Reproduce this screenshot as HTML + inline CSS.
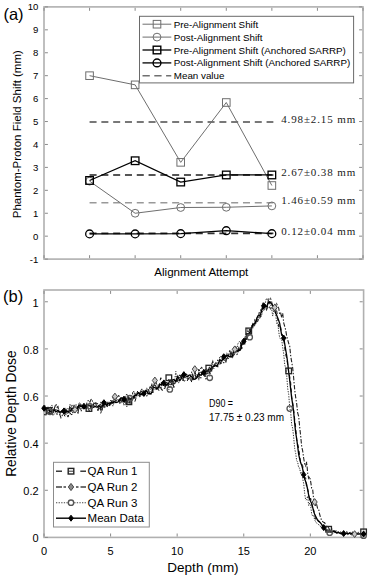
<!DOCTYPE html>
<html><head><meta charset="utf-8"><style>
html,body{margin:0;padding:0;background:#fff;}
svg{display:block;}
text{font-family:'Liberation Sans', sans-serif;fill:#000;}
</style></head><body>
<svg width="368" height="579" viewBox="0 0 368 579">
<rect x="44.0" y="6.9" width="319.0" height="252.20000000000002" fill="none" stroke="#b0b0b0" stroke-width="1.6"/>
<path d="M44.9,259.10h3M362.1,259.10h-3M44.9,236.17h3M362.1,236.17h-3M44.9,213.25h3M362.1,213.25h-3M44.9,190.32h3M362.1,190.32h-3M44.9,167.39h3M362.1,167.39h-3M44.9,144.46h3M362.1,144.46h-3M44.9,121.54h3M362.1,121.54h-3M44.9,98.61h3M362.1,98.61h-3M44.9,75.68h3M362.1,75.68h-3M44.9,52.75h3M362.1,52.75h-3M44.9,29.83h3M362.1,29.83h-3M44.9,6.90h3M362.1,6.90h-3M44.00,258.20000000000005v-3M44.00,7.800000000000001v3M89.57,258.20000000000005v-3M89.57,7.800000000000001v3M135.14,258.20000000000005v-3M135.14,7.800000000000001v3M180.71,258.20000000000005v-3M180.71,7.800000000000001v3M226.29,258.20000000000005v-3M226.29,7.800000000000001v3M271.86,258.20000000000005v-3M271.86,7.800000000000001v3M317.43,258.20000000000005v-3M317.43,7.800000000000001v3M363.00,258.20000000000005v-3M363.00,7.800000000000001v3" stroke="#8a8a8a" stroke-width="1" fill="none"/>
<text x="38.4" y="262.60" font-size="9.6" text-anchor="end">-1</text>
<text x="38.4" y="239.67" font-size="9.6" text-anchor="end">0</text>
<text x="38.4" y="216.75" font-size="9.6" text-anchor="end">1</text>
<text x="38.4" y="193.82" font-size="9.6" text-anchor="end">2</text>
<text x="38.4" y="170.89" font-size="9.6" text-anchor="end">3</text>
<text x="38.4" y="147.96" font-size="9.6" text-anchor="end">4</text>
<text x="38.4" y="125.04" font-size="9.6" text-anchor="end">5</text>
<text x="38.4" y="102.11" font-size="9.6" text-anchor="end">6</text>
<text x="38.4" y="79.18" font-size="9.6" text-anchor="end">7</text>
<text x="38.4" y="56.25" font-size="9.6" text-anchor="end">8</text>
<text x="38.4" y="33.33" font-size="9.6" text-anchor="end">9</text>
<text x="38.4" y="10.40" font-size="9.6" text-anchor="end">10</text>
<text x="201.3" y="275.6" font-size="11.6" text-anchor="middle">Alignment Attempt</text>
<text transform="translate(21.4,134.2) rotate(-90)" font-size="11.5" text-anchor="middle">Phantom-Proton Field Shift (mm)</text>
<text x="3.4" y="19.6" font-size="16.5">(a)</text>
<line x1="89.57" y1="121.99" x2="273.36" y2="121.99" stroke="#787878" stroke-width="1.9" stroke-dasharray="7 4.8"/>
<line x1="89.57" y1="174.96" x2="273.36" y2="174.96" stroke="#555555" stroke-width="1.9" stroke-dasharray="7 4.8"/>
<line x1="89.57" y1="202.70" x2="273.36" y2="202.70" stroke="#999999" stroke-width="1.6" stroke-dasharray="7 4.8"/>
<line x1="89.57" y1="233.42" x2="273.36" y2="233.42" stroke="#303030" stroke-width="1.9" stroke-dasharray="7 4.8"/>
<polyline points="89.57,75.68 135.14,84.85 180.71,162.35 226.29,102.51 271.86,185.50" fill="none" stroke="#6e6e6e" stroke-width="1.0"/>
<rect x="85.77" y="71.88" width="7.6" height="7.6" fill="none" stroke="#6e6e6e" stroke-width="1.0"/>
<rect x="131.34" y="81.05" width="7.6" height="7.6" fill="none" stroke="#6e6e6e" stroke-width="1.0"/>
<rect x="176.91" y="158.55" width="7.6" height="7.6" fill="none" stroke="#6e6e6e" stroke-width="1.0"/>
<rect x="222.49" y="98.71" width="7.6" height="7.6" fill="none" stroke="#6e6e6e" stroke-width="1.0"/>
<rect x="268.06" y="181.70" width="7.6" height="7.6" fill="none" stroke="#6e6e6e" stroke-width="1.0"/>
<polyline points="89.57,181.15 135.14,213.25 180.71,207.51 226.29,207.28 271.86,205.91" fill="none" stroke="#6e6e6e" stroke-width="1.0"/>
<circle cx="89.57" cy="181.15" r="3.9" fill="none" stroke="#6e6e6e" stroke-width="1.0"/>
<circle cx="135.14" cy="213.25" r="3.9" fill="none" stroke="#6e6e6e" stroke-width="1.0"/>
<circle cx="180.71" cy="207.51" r="3.9" fill="none" stroke="#6e6e6e" stroke-width="1.0"/>
<circle cx="226.29" cy="207.28" r="3.9" fill="none" stroke="#6e6e6e" stroke-width="1.0"/>
<circle cx="271.86" cy="205.91" r="3.9" fill="none" stroke="#6e6e6e" stroke-width="1.0"/>
<polyline points="89.57,180.46 135.14,160.74 180.71,182.06 226.29,174.96 271.86,174.96" fill="none" stroke="#000" stroke-width="1.25"/>
<rect x="85.77" y="176.66" width="7.6" height="7.6" fill="none" stroke="#000" stroke-width="1.3"/>
<rect x="131.34" y="156.94" width="7.6" height="7.6" fill="none" stroke="#000" stroke-width="1.3"/>
<rect x="176.91" y="178.26" width="7.6" height="7.6" fill="none" stroke="#000" stroke-width="1.3"/>
<rect x="222.49" y="171.16" width="7.6" height="7.6" fill="none" stroke="#000" stroke-width="1.3"/>
<rect x="268.06" y="171.16" width="7.6" height="7.6" fill="none" stroke="#000" stroke-width="1.3"/>
<polyline points="89.57,233.88 135.14,233.88 180.71,233.65 226.29,230.67 271.86,233.65" fill="none" stroke="#000" stroke-width="1.25"/>
<circle cx="89.57" cy="233.88" r="3.9" fill="none" stroke="#000" stroke-width="1.3"/>
<circle cx="135.14" cy="233.88" r="3.9" fill="none" stroke="#000" stroke-width="1.3"/>
<circle cx="180.71" cy="233.65" r="3.9" fill="none" stroke="#000" stroke-width="1.3"/>
<circle cx="226.29" cy="230.67" r="3.9" fill="none" stroke="#000" stroke-width="1.3"/>
<circle cx="271.86" cy="233.65" r="3.9" fill="none" stroke="#000" stroke-width="1.3"/>
<text x="281.2" y="123.20" style="font-family:'Liberation Serif', serif;fill:#1a1a1a" font-size="11" textLength="74" lengthAdjust="spacing">4.98±2.15 mm</text>
<text x="281.2" y="176.00" style="font-family:'Liberation Serif', serif;fill:#1a1a1a" font-size="11" textLength="74" lengthAdjust="spacing">2.67±0.38 mm</text>
<text x="281.2" y="204.00" style="font-family:'Liberation Serif', serif;fill:#1a1a1a" font-size="11" textLength="74" lengthAdjust="spacing">1.46±0.59 mm</text>
<text x="281.2" y="235.30" style="font-family:'Liberation Serif', serif;fill:#1a1a1a" font-size="11" textLength="74" lengthAdjust="spacing">0.12±0.04 mm</text>
<rect x="139.5" y="16.3" width="214.10000000000002" height="66.60000000000001" fill="#fff" stroke="#6a6a6a" stroke-width="1"/>
<line x1="142.5" y1="24.2" x2="171.3" y2="24.2" stroke="#6e6e6e" stroke-width="1"/>
<rect x="153.2" y="20.4" width="7.6" height="7.6" fill="none" stroke="#6e6e6e" stroke-width="1"/>
<text x="173.8" y="27.70" font-size="9.8">Pre-Alignment Shift</text>
<line x1="142.5" y1="37.1" x2="171.3" y2="37.1" stroke="#6e6e6e" stroke-width="1"/>
<circle cx="157" cy="37.1" r="3.9" fill="none" stroke="#6e6e6e" stroke-width="1"/>
<text x="173.8" y="40.60" font-size="9.8">Post-Alignment Shift</text>
<line x1="142.5" y1="50.0" x2="171.3" y2="50.0" stroke="#000" stroke-width="1.3"/>
<rect x="153.2" y="46.2" width="7.6" height="7.6" fill="none" stroke="#000" stroke-width="1.4"/>
<text x="173.8" y="53.50" font-size="9.8">Pre-Alignment Shift (Anchored SARRP)</text>
<line x1="142.5" y1="62.900000000000006" x2="171.3" y2="62.900000000000006" stroke="#000" stroke-width="1.3"/>
<circle cx="157" cy="62.900000000000006" r="3.9" fill="none" stroke="#000" stroke-width="1.4"/>
<text x="173.8" y="66.40" font-size="9.8">Post-Alignment Shift (Anchored SARRP)</text>
<line x1="142.5" y1="75.8" x2="171.3" y2="75.8" stroke="#707070" stroke-width="1.5" stroke-dasharray="7.3 4.5"/>
<text x="173.8" y="79.30" font-size="9.8">Mean value</text>
<rect x="44.0" y="290.0" width="319.6" height="247.39999999999998" fill="none" stroke="#b0b0b0" stroke-width="1.6"/>
<path d="M44.9,537.40h3M362.70000000000005,537.40h-3M44.9,490.28h3M362.70000000000005,490.28h-3M44.9,443.15h3M362.70000000000005,443.15h-3M44.9,396.03h3M362.70000000000005,396.03h-3M44.9,348.90h3M362.70000000000005,348.90h-3M44.9,301.78h3M362.70000000000005,301.78h-3M44.00,536.5v-3M44.00,290.9v3M110.58,536.5v-3M110.58,290.9v3M177.17,536.5v-3M177.17,290.9v3M243.75,536.5v-3M243.75,290.9v3M310.33,536.5v-3M310.33,290.9v3" stroke="#8a8a8a" stroke-width="1" fill="none"/>
<text x="38.6" y="542.20" font-size="11" text-anchor="end">0</text>
<text x="38.6" y="495.08" font-size="11" text-anchor="end">0.2</text>
<text x="38.6" y="447.95" font-size="11" text-anchor="end">0.4</text>
<text x="38.6" y="400.83" font-size="11" text-anchor="end">0.6</text>
<text x="38.6" y="353.70" font-size="11" text-anchor="end">0.8</text>
<text x="38.6" y="306.58" font-size="11" text-anchor="end">1</text>
<text x="44.00" y="555" font-size="11" text-anchor="middle">0</text>
<text x="110.58" y="555" font-size="11" text-anchor="middle">5</text>
<text x="177.17" y="555" font-size="11" text-anchor="middle">10</text>
<text x="243.75" y="555" font-size="11" text-anchor="middle">15</text>
<text x="310.33" y="555" font-size="11" text-anchor="middle">20</text>
<text x="203" y="572" font-size="13.5" text-anchor="middle">Depth (mm)</text>
<text transform="translate(15.6,413.6) rotate(-90)" font-size="13.8" text-anchor="middle">Relative Depth Dose</text>
<text x="3" y="302.3" font-size="16.5">(b)</text>
<text x="209" y="407.2" font-size="10" textLength="24" lengthAdjust="spacingAndGlyphs">D90 =</text>
<text x="209" y="420.6" font-size="10">17.75 ± 0.23 mm</text>
<path d="M44.00,409.38 L45.00,405.53 L46.00,406.20 L47.00,411.51 L47.99,411.71 L48.99,412.02 L49.99,409.14 L50.99,410.42 L51.99,409.32 L52.99,415.66 L53.99,407.07 L54.99,410.61 L55.98,409.31 L56.98,411.68 L57.98,412.51 L58.98,410.03 L59.98,409.12 L60.98,412.16 L61.98,412.19 L62.98,410.28 L63.98,414.65 L64.97,416.22 L65.97,410.87 L66.97,413.59 L67.97,417.10 L68.97,413.87 L69.97,412.44 L70.97,414.37 L71.97,414.72 L72.96,409.66 L73.96,406.67 L74.96,409.71 L75.96,411.01 L76.96,407.43 L77.96,406.14 L78.96,408.53 L79.95,405.93 L80.95,404.34 L81.95,407.91 L82.95,409.53 L83.95,406.13 L84.95,405.60 L85.95,403.89 L86.95,410.44 L87.94,409.45 L88.94,410.01 L89.94,412.00 L90.94,406.50 L91.94,404.99 L92.94,407.78 L93.94,401.99 L94.94,402.88 L95.94,403.69 L96.93,404.16 L97.93,403.36 L98.93,409.24 L99.93,404.16 L100.93,404.28 L101.93,410.56 L102.93,405.22 L103.93,405.55 L104.92,402.81 L105.92,405.64 L106.92,404.39 L107.92,403.30 L108.92,405.98 L109.92,401.95 L110.92,402.98 L111.92,401.52 L112.91,403.45 L113.91,398.85 L114.91,399.69 L115.91,401.62 L116.91,398.93 L117.91,396.23 L118.91,395.35 L119.91,404.07 L120.90,397.91 L121.90,398.29 L122.90,400.31 L123.90,402.26 L124.90,396.56 L125.90,402.45 L126.90,397.45 L127.89,395.47 L128.89,403.29 L129.89,400.69 L130.89,402.49 L131.89,397.30 L132.89,392.26 L133.89,391.25 L134.89,401.64 L135.88,398.53 L136.88,393.46 L137.88,390.35 L138.88,393.52 L139.88,396.65 L140.88,393.63 L141.88,393.83 L142.88,394.28 L143.88,395.10 L144.87,391.51 L145.87,391.05 L146.87,391.91 L147.87,392.42 L148.87,394.94 L149.87,391.86 L150.87,386.55 L151.87,390.17 L152.86,392.99 L153.86,384.96 L154.86,385.32 L155.86,381.20 L156.86,386.54 L157.86,388.84 L158.86,390.53 L159.86,381.65 L160.85,377.73 L161.85,387.04 L162.85,386.95 L163.85,383.29 L164.85,386.53 L165.85,385.03 L166.85,384.47 L167.84,382.14 L168.84,379.24 L169.84,381.42 L170.84,379.24 L171.84,382.27 L172.84,381.07 L173.84,387.59 L174.84,385.29 L175.84,378.56 L176.83,381.24 L177.83,378.03 L178.83,377.20 L179.83,374.83 L180.83,375.79 L181.83,375.57 L182.83,378.91 L183.83,380.90 L184.82,380.91 L185.82,380.22 L186.82,381.63 L187.82,379.73 L188.82,377.79 L189.82,376.59 L190.82,378.63 L191.81,382.72 L192.81,377.40 L193.81,375.27 L194.81,372.54 L195.81,373.99 L196.81,377.68 L197.81,377.14 L198.81,369.18 L199.81,371.31 L200.80,367.90 L201.80,367.10 L202.80,374.81 L203.80,371.66 L204.80,370.33 L205.80,369.40 L206.80,368.93 L207.79,369.37 L208.79,369.60 L209.79,373.55 L210.79,369.76 L211.79,370.08 L212.79,367.28 L213.79,367.72 L214.79,363.98 L215.78,362.55 L216.78,363.40 L217.78,363.05 L218.78,363.31 L219.78,364.31 L220.78,363.03 L221.78,362.80 L222.78,359.61 L223.78,359.39 L224.77,357.75 L225.77,361.67 L226.77,355.53 L227.77,358.87 L228.77,358.41 L229.77,356.13 L230.77,355.91 L231.77,353.00 L232.76,354.69 L233.76,355.63 L234.76,353.53 L235.76,346.63 L236.76,349.30 L237.76,352.19 L238.76,348.90 L239.75,351.12 L240.75,342.08 L241.75,348.96 L242.75,342.50 L243.75,340.66 L244.75,344.34 L245.75,337.91 L246.75,333.70 L247.75,333.47 L248.74,332.39 L249.74,329.03 L250.74,329.35 L251.74,327.56 L252.74,326.87 L253.74,323.62 L254.74,325.69 L255.74,319.81 L256.73,321.58 L257.73,321.62 L258.73,315.29 L259.73,309.35 L260.73,309.95 L261.73,312.51 L262.73,307.94 L263.73,308.95 L264.72,306.65 L265.72,306.04 L266.72,311.52 L267.72,304.92 L268.72,307.30 L269.72,306.93 L270.72,309.71 L271.72,310.46 L272.71,309.08 L273.71,304.53 L274.71,303.27 L275.71,310.26 L276.71,310.79 L277.71,318.56 L278.71,326.75 L279.71,324.73 L280.70,327.29 L281.70,333.45 L282.70,335.07 L283.70,337.99 L284.70,347.37 L285.70,354.79 L286.70,358.17 L287.70,365.00 L288.69,372.41 L289.69,376.46 L290.69,382.86 L291.69,396.94 L292.69,402.75 L293.69,410.25 L294.69,419.28 L295.68,427.42 L296.68,439.36 L297.68,444.16 L298.68,448.12 L299.68,455.60 L300.68,463.63 L301.68,463.97 L302.68,465.61 L303.68,472.16 L304.67,478.53 L305.67,477.64 L306.67,488.66 L307.67,488.68 L308.67,494.09 L309.67,500.98 L310.67,498.22 L311.67,503.51 L312.66,510.06 L313.66,509.52 L314.66,514.62 L315.66,520.09 L316.66,520.00 L317.66,519.52 L318.66,520.38 L319.66,522.21 L320.65,523.63 L321.65,524.66 L322.65,526.29 L323.65,526.69 L324.65,528.60 L325.65,529.18 L326.65,529.39 L327.65,530.80 L328.64,530.74 L329.64,529.39 L330.64,530.40 L331.64,531.17 L332.64,531.10 L333.64,531.85 L334.64,531.70 L335.63,532.51 L336.63,532.33 L337.63,533.62 L338.63,532.03 L339.63,533.51 L340.63,534.57 L341.63,533.69 L342.63,533.65 L343.63,533.42 L344.62,534.24 L345.62,532.92 L346.62,530.84 L347.62,534.10 L348.62,533.44 L349.62,533.76 L350.62,533.66 L351.62,535.09 L352.61,534.66 L353.61,533.46 L354.61,533.55 L355.61,532.59 L356.61,534.14 L357.61,533.47 L358.61,531.70 L359.61,534.26 L360.60,534.66 L361.60,534.04 L362.60,533.92 L363.60,533.36" fill="none" stroke="#111" stroke-width="1.0" stroke-dasharray="4 3"/>
<path d="M44.00,414.67 L45.00,414.76 L46.00,414.83 L47.00,412.14 L47.99,406.90 L48.99,414.46 L49.99,407.92 L50.99,406.71 L51.99,411.71 L52.99,413.03 L53.99,409.45 L54.99,406.52 L55.98,403.98 L56.98,407.28 L57.98,406.51 L58.98,412.68 L59.98,415.15 L60.98,417.76 L61.98,416.18 L62.98,413.42 L63.98,411.77 L64.97,415.05 L65.97,409.31 L66.97,411.24 L67.97,413.02 L68.97,412.30 L69.97,404.40 L70.97,409.09 L71.97,412.79 L72.96,412.07 L73.96,404.34 L74.96,409.67 L75.96,404.92 L76.96,404.72 L77.96,414.30 L78.96,404.98 L79.95,408.38 L80.95,411.17 L81.95,409.21 L82.95,405.50 L83.95,405.47 L84.95,405.74 L85.95,408.36 L86.95,402.58 L87.94,400.95 L88.94,400.11 L89.94,402.08 L90.94,399.55 L91.94,399.06 L92.94,403.03 L93.94,403.05 L94.94,403.82 L95.94,403.84 L96.93,403.80 L97.93,410.84 L98.93,407.25 L99.93,405.18 L100.93,412.37 L101.93,410.13 L102.93,401.67 L103.93,407.99 L104.92,406.57 L105.92,403.83 L106.92,405.92 L107.92,406.97 L108.92,405.73 L109.92,405.09 L110.92,404.92 L111.92,401.83 L112.91,397.41 L113.91,399.87 L114.91,396.54 L115.91,398.39 L116.91,398.22 L117.91,398.97 L118.91,401.16 L119.91,399.06 L120.90,399.50 L121.90,402.95 L122.90,397.77 L123.90,397.50 L124.90,398.38 L125.90,401.87 L126.90,406.77 L127.89,395.60 L128.89,399.32 L129.89,405.03 L130.89,397.64 L131.89,399.72 L132.89,395.92 L133.89,396.88 L134.89,393.35 L135.88,395.16 L136.88,394.98 L137.88,394.51 L138.88,391.82 L139.88,397.67 L140.88,390.92 L141.88,391.50 L142.88,394.79 L143.88,393.33 L144.87,393.85 L145.87,391.72 L146.87,389.06 L147.87,392.64 L148.87,388.46 L149.87,387.01 L150.87,387.07 L151.87,384.58 L152.86,388.44 L153.86,385.65 L154.86,380.47 L155.86,386.82 L156.86,387.76 L157.86,386.74 L158.86,384.96 L159.86,387.80 L160.85,387.31 L161.85,391.07 L162.85,389.12 L163.85,388.44 L164.85,388.20 L165.85,385.28 L166.85,381.61 L167.84,384.40 L168.84,386.67 L169.84,381.94 L170.84,381.79 L171.84,385.59 L172.84,381.58 L173.84,384.13 L174.84,383.00 L175.84,382.35 L176.83,378.09 L177.83,382.07 L178.83,380.76 L179.83,378.52 L180.83,375.50 L181.83,375.34 L182.83,380.88 L183.83,375.18 L184.82,376.47 L185.82,373.94 L186.82,374.41 L187.82,378.81 L188.82,377.60 L189.82,377.92 L190.82,375.34 L191.81,371.61 L192.81,376.01 L193.81,377.36 L194.81,369.10 L195.81,377.94 L196.81,376.06 L197.81,375.99 L198.81,378.79 L199.81,372.73 L200.80,371.04 L201.80,373.72 L202.80,373.21 L203.80,373.82 L204.80,377.35 L205.80,371.86 L206.80,374.87 L207.79,373.45 L208.79,368.45 L209.79,366.41 L210.79,370.25 L211.79,364.03 L212.79,361.38 L213.79,365.43 L214.79,366.07 L215.78,364.94 L216.78,366.21 L217.78,366.63 L218.78,361.64 L219.78,360.70 L220.78,363.56 L221.78,363.02 L222.78,362.88 L223.78,362.50 L224.77,362.74 L225.77,362.76 L226.77,355.39 L227.77,357.31 L228.77,355.08 L229.77,349.79 L230.77,354.81 L231.77,352.40 L232.76,356.73 L233.76,353.99 L234.76,349.32 L235.76,351.34 L236.76,354.47 L237.76,353.72 L238.76,347.83 L239.75,349.54 L240.75,344.54 L241.75,344.29 L242.75,344.48 L243.75,342.00 L244.75,338.08 L245.75,338.65 L246.75,339.73 L247.75,334.88 L248.74,334.76 L249.74,332.70 L250.74,328.62 L251.74,327.05 L252.74,323.80 L253.74,325.51 L254.74,324.98 L255.74,322.74 L256.73,319.30 L257.73,320.72 L258.73,318.37 L259.73,317.96 L260.73,316.07 L261.73,311.64 L262.73,302.91 L263.73,308.17 L264.72,305.62 L265.72,305.26 L266.72,305.35 L267.72,303.60 L268.72,298.44 L269.72,303.41 L270.72,299.02 L271.72,302.09 L272.71,307.20 L273.71,307.38 L274.71,307.45 L275.71,309.22 L276.71,303.98 L277.71,306.20 L278.71,308.10 L279.71,314.21 L280.70,313.09 L281.70,317.50 L282.70,313.28 L283.70,322.85 L284.70,326.38 L285.70,329.98 L286.70,336.19 L287.70,339.70 L288.69,343.35 L289.69,345.73 L290.69,355.93 L291.69,361.92 L292.69,367.81 L293.69,378.25 L294.69,389.58 L295.68,397.45 L296.68,403.67 L297.68,412.85 L298.68,416.29 L299.68,426.94 L300.68,436.05 L301.68,446.55 L302.68,450.89 L303.68,458.28 L304.67,463.98 L305.67,465.92 L306.67,461.79 L307.67,473.29 L308.67,478.31 L309.67,476.69 L310.67,481.66 L311.67,488.19 L312.66,489.38 L313.66,499.21 L314.66,502.01 L315.66,506.00 L316.66,504.49 L317.66,508.56 L318.66,509.33 L319.66,514.48 L320.65,517.81 L321.65,520.27 L322.65,521.67 L323.65,522.33 L324.65,522.72 L325.65,525.42 L326.65,527.57 L327.65,526.61 L328.64,527.72 L329.64,529.96 L330.64,529.34 L331.64,528.98 L332.64,529.39 L333.64,531.50 L334.64,530.90 L335.63,531.46 L336.63,530.61 L337.63,531.47 L338.63,532.65 L339.63,532.02 L340.63,532.00 L341.63,533.77 L342.63,534.03 L343.63,533.74 L344.62,533.69 L345.62,534.04 L346.62,535.00 L347.62,534.81 L348.62,533.66 L349.62,533.33 L350.62,534.18 L351.62,533.40 L352.61,532.26 L353.61,533.69 L354.61,534.10 L355.61,534.23 L356.61,533.44 L357.61,533.53 L358.61,533.62 L359.61,534.04 L360.60,533.54 L361.60,533.54 L362.60,533.86 L363.60,533.08" fill="none" stroke="#222" stroke-width="1.1" stroke-dasharray="4.5 1.6 1.4 1.6"/>
<path d="M44.00,409.01 L45.00,411.43 L46.00,408.63 L47.00,410.56 L47.99,414.77 L48.99,408.14 L49.99,410.32 L50.99,408.22 L51.99,404.98 L52.99,409.86 L53.99,414.46 L54.99,413.24 L55.98,409.01 L56.98,415.29 L57.98,411.10 L58.98,410.80 L59.98,414.96 L60.98,411.52 L61.98,410.46 L62.98,414.26 L63.98,413.25 L64.97,410.51 L65.97,415.28 L66.97,413.78 L67.97,408.17 L68.97,410.43 L69.97,414.50 L70.97,409.80 L71.97,404.50 L72.96,413.07 L73.96,407.13 L74.96,406.53 L75.96,408.84 L76.96,407.08 L77.96,409.56 L78.96,403.04 L79.95,402.42 L80.95,409.70 L81.95,408.30 L82.95,407.05 L83.95,408.67 L84.95,406.45 L85.95,409.59 L86.95,405.50 L87.94,407.37 L88.94,406.66 L89.94,404.75 L90.94,403.83 L91.94,408.67 L92.94,403.93 L93.94,403.29 L94.94,405.56 L95.94,401.74 L96.93,407.90 L97.93,407.68 L98.93,405.12 L99.93,407.12 L100.93,401.64 L101.93,403.81 L102.93,400.64 L103.93,408.11 L104.92,407.67 L105.92,401.33 L106.92,406.55 L107.92,401.45 L108.92,405.62 L109.92,402.45 L110.92,399.49 L111.92,402.94 L112.91,406.13 L113.91,403.63 L114.91,398.53 L115.91,400.27 L116.91,399.00 L117.91,400.30 L118.91,399.80 L119.91,401.17 L120.90,403.07 L121.90,398.65 L122.90,399.80 L123.90,405.55 L124.90,399.85 L125.90,395.66 L126.90,393.47 L127.89,402.31 L128.89,398.79 L129.89,396.66 L130.89,396.27 L131.89,399.73 L132.89,396.55 L133.89,398.32 L134.89,397.31 L135.88,397.89 L136.88,395.37 L137.88,396.46 L138.88,394.36 L139.88,394.46 L140.88,390.86 L141.88,388.41 L142.88,393.25 L143.88,395.27 L144.87,393.68 L145.87,394.40 L146.87,396.84 L147.87,391.95 L148.87,391.92 L149.87,387.87 L150.87,389.62 L151.87,386.46 L152.86,386.59 L153.86,389.97 L154.86,389.58 L155.86,389.66 L156.86,388.60 L157.86,384.81 L158.86,387.90 L159.86,387.83 L160.85,387.73 L161.85,381.52 L162.85,385.54 L163.85,385.47 L164.85,386.75 L165.85,383.72 L166.85,385.95 L167.84,386.12 L168.84,389.68 L169.84,387.95 L170.84,381.69 L171.84,379.82 L172.84,385.84 L173.84,380.86 L174.84,378.72 L175.84,371.40 L176.83,382.16 L177.83,382.64 L178.83,382.74 L179.83,376.94 L180.83,375.85 L181.83,378.84 L182.83,373.52 L183.83,371.83 L184.82,378.75 L185.82,376.71 L186.82,378.52 L187.82,379.85 L188.82,379.20 L189.82,378.63 L190.82,381.03 L191.81,377.26 L192.81,374.58 L193.81,379.12 L194.81,378.43 L195.81,378.74 L196.81,374.96 L197.81,375.33 L198.81,372.65 L199.81,376.23 L200.80,378.88 L201.80,372.90 L202.80,373.58 L203.80,369.11 L204.80,370.50 L205.80,379.89 L206.80,377.81 L207.79,371.21 L208.79,372.77 L209.79,376.31 L210.79,370.42 L211.79,363.92 L212.79,365.17 L213.79,368.95 L214.79,365.10 L215.78,362.31 L216.78,364.30 L217.78,359.18 L218.78,364.25 L219.78,356.31 L220.78,356.60 L221.78,359.19 L222.78,359.73 L223.78,360.00 L224.77,361.47 L225.77,355.15 L226.77,352.94 L227.77,353.70 L228.77,354.67 L229.77,354.99 L230.77,357.28 L231.77,356.35 L232.76,357.10 L233.76,351.31 L234.76,353.32 L235.76,348.36 L236.76,350.65 L237.76,344.09 L238.76,342.08 L239.75,341.48 L240.75,342.42 L241.75,345.84 L242.75,344.93 L243.75,344.17 L244.75,338.96 L245.75,333.89 L246.75,338.76 L247.75,328.69 L248.74,334.97 L249.74,335.68 L250.74,329.35 L251.74,325.37 L252.74,327.93 L253.74,327.69 L254.74,318.92 L255.74,323.95 L256.73,317.31 L257.73,317.60 L258.73,317.67 L259.73,315.35 L260.73,316.95 L261.73,315.18 L262.73,309.49 L263.73,310.98 L264.72,308.25 L265.72,300.54 L266.72,298.12 L267.72,299.84 L268.72,300.91 L269.72,304.55 L270.72,304.90 L271.72,309.02 L272.71,316.04 L273.71,309.75 L274.71,311.53 L275.71,314.05 L276.71,323.70 L277.71,322.48 L278.71,331.45 L279.71,338.15 L280.70,338.81 L281.70,339.59 L282.70,347.61 L283.70,353.71 L284.70,364.51 L285.70,368.17 L286.70,375.22 L287.70,388.58 L288.69,394.40 L289.69,407.09 L290.69,412.25 L291.69,424.73 L292.69,428.38 L293.69,437.54 L294.69,448.66 L295.68,453.28 L296.68,460.65 L297.68,462.05 L298.68,467.86 L299.68,468.02 L300.68,473.77 L301.68,472.50 L302.68,478.72 L303.68,483.60 L304.67,493.53 L305.67,500.08 L306.67,499.55 L307.67,496.11 L308.67,505.59 L309.67,503.07 L310.67,505.92 L311.67,514.05 L312.66,516.10 L313.66,515.51 L314.66,519.91 L315.66,521.82 L316.66,523.16 L317.66,523.48 L318.66,524.69 L319.66,524.90 L320.65,526.91 L321.65,527.69 L322.65,529.15 L323.65,527.81 L324.65,529.80 L325.65,530.39 L326.65,531.23 L327.65,532.14 L328.64,531.76 L329.64,531.25 L330.64,532.14 L331.64,531.37 L332.64,533.31 L333.64,533.65 L334.64,532.42 L335.63,532.58 L336.63,533.76 L337.63,532.46 L338.63,532.15 L339.63,533.07 L340.63,534.20 L341.63,532.62 L342.63,533.56 L343.63,533.59 L344.62,533.22 L345.62,533.87 L346.62,532.55 L347.62,533.81 L348.62,532.80 L349.62,532.80 L350.62,532.22 L351.62,533.08 L352.61,533.07 L353.61,534.00 L354.61,534.06 L355.61,534.22 L356.61,533.40 L357.61,534.15 L358.61,532.84 L359.61,533.98 L360.60,534.92 L361.60,534.47 L362.60,533.21 L363.60,534.22" fill="none" stroke="#333" stroke-width="1.0" stroke-dasharray="1.3 1.3"/>
<path d="M44.00,408.24 L45.00,408.94 L46.00,409.10 L47.00,408.30 L47.99,408.44 L48.99,409.59 L49.99,411.34 L50.99,411.95 L51.99,411.31 L52.99,410.85 L53.99,410.27 L54.99,410.87 L55.98,411.87 L56.98,411.09 L57.98,410.39 L58.98,411.43 L59.98,412.36 L60.98,411.75 L61.98,410.85 L62.98,410.35 L63.98,410.92 L64.97,412.41 L65.97,412.00 L66.97,411.57 L67.97,411.94 L68.97,411.09 L69.97,411.05 L70.97,410.17 L71.97,408.37 L72.96,408.95 L73.96,409.53 L74.96,408.96 L75.96,409.13 L76.96,409.23 L77.96,407.15 L78.96,404.89 L79.95,405.26 L80.95,406.41 L81.95,406.34 L82.95,405.67 L83.95,406.26 L84.95,407.23 L85.95,406.69 L86.95,405.36 L87.94,404.73 L88.94,405.08 L89.94,405.83 L90.94,406.87 L91.94,407.08 L92.94,407.44 L93.94,407.19 L94.94,406.29 L95.94,406.82 L96.93,407.12 L97.93,406.56 L98.93,405.60 L99.93,406.45 L100.93,407.63 L101.93,406.39 L102.93,404.63 L103.93,402.69 L104.92,402.12 L105.92,404.34 L106.92,405.48 L107.92,403.28 L108.92,403.34 L109.92,404.68 L110.92,402.69 L111.92,401.96 L112.91,402.89 L113.91,401.98 L114.91,401.89 L115.91,402.58 L116.91,402.48 L117.91,401.97 L118.91,400.68 L119.91,399.27 L120.90,397.95 L121.90,397.91 L122.90,398.72 L123.90,399.23 L124.90,399.80 L125.90,399.85 L126.90,400.34 L127.89,399.89 L128.89,398.85 L129.89,398.86 L130.89,399.17 L131.89,399.87 L132.89,398.99 L133.89,396.15 L134.89,395.43 L135.88,395.92 L136.88,394.64 L137.88,393.00 L138.88,392.51 L139.88,393.99 L140.88,394.78 L141.88,394.32 L142.88,394.34 L143.88,393.44 L144.87,391.74 L145.87,390.39 L146.87,391.21 L147.87,393.20 L148.87,393.54 L149.87,393.37 L150.87,394.06 L151.87,391.92 L152.86,388.34 L153.86,387.63 L154.86,387.62 L155.86,388.11 L156.86,389.21 L157.86,388.37 L158.86,386.23 L159.86,384.81 L160.85,384.36 L161.85,384.38 L162.85,382.95 L163.85,382.92 L164.85,384.74 L165.85,384.68 L166.85,384.96 L167.84,384.84 L168.84,382.66 L169.84,380.44 L170.84,380.01 L171.84,380.51 L172.84,379.81 L173.84,379.49 L174.84,380.63 L175.84,381.26 L176.83,378.43 L177.83,376.20 L178.83,378.69 L179.83,380.59 L180.83,379.46 L181.83,376.78 L182.83,375.02 L183.83,374.72 L184.82,375.23 L185.82,376.02 L186.82,376.42 L187.82,376.71 L188.82,375.22 L189.82,374.93 L190.82,376.30 L191.81,376.67 L192.81,378.09 L193.81,379.43 L194.81,379.22 L195.81,378.69 L196.81,377.75 L197.81,375.28 L198.81,373.47 L199.81,374.85 L200.80,375.29 L201.80,373.78 L202.80,373.17 L203.80,372.53 L204.80,371.34 L205.80,371.17 L206.80,371.59 L207.79,370.44 L208.79,368.95 L209.79,369.11 L210.79,368.79 L211.79,367.39 L212.79,366.76 L213.79,366.43 L214.79,365.56 L215.78,365.87 L216.78,365.97 L217.78,364.72 L218.78,362.43 L219.78,359.72 L220.78,360.25 L221.78,361.09 L222.78,358.94 L223.78,356.73 L224.77,356.22 L225.77,356.37 L226.77,355.60 L227.77,355.14 L228.77,356.23 L229.77,356.78 L230.77,356.65 L231.77,357.01 L232.76,354.44 L233.76,350.70 L234.76,350.11 L235.76,350.76 L236.76,351.07 L237.76,350.64 L238.76,350.05 L239.75,350.51 L240.75,349.23 L241.75,344.39 L242.75,341.42 L243.75,341.28 L244.75,340.51 L245.75,339.47 L246.75,338.16 L247.75,336.27 L248.74,333.45 L249.74,332.24 L250.74,331.50 L251.74,327.75 L252.74,324.62 L253.74,324.20 L254.74,323.46 L255.74,321.63 L256.73,319.09 L257.73,316.01 L258.73,315.64 L259.73,316.00 L260.73,313.27 L261.73,310.16 L262.73,307.60 L263.73,305.74 L264.72,305.07 L265.72,306.25 L266.72,306.41 L267.72,304.21 L268.72,302.32 L269.72,302.02 L270.72,302.98 L271.72,303.86 L272.71,305.52 L273.71,307.96 L274.71,310.21 L275.71,313.22 L276.71,315.18 L277.71,317.86 L278.71,320.49 L279.71,323.37 L280.70,329.59 L281.70,335.07 L282.70,336.08 L283.70,338.10 L284.70,343.93 L285.70,349.96 L286.70,355.49 L287.70,362.85 L288.69,371.96 L289.69,380.06 L290.69,389.15 L291.69,398.10 L292.69,404.32 L293.69,412.26 L294.69,423.50 L295.68,432.54 L296.68,438.84 L297.68,446.33 L298.68,454.35 L299.68,458.77 L300.68,462.85 L301.68,465.16 L302.68,468.78 L303.68,474.72 L304.67,478.94 L305.67,481.45 L306.67,484.76 L307.67,489.66 L308.67,495.18 L309.67,499.35 L310.67,501.54 L311.67,503.37 L312.66,507.16 L313.66,511.35 L314.66,514.36 L315.66,516.31 L316.66,518.35 L317.66,520.37 L318.66,521.35 L319.66,521.89 L320.65,523.04 L321.65,524.45 L322.65,525.88 L323.65,527.57 L324.65,529.35 L325.65,530.06 L326.65,530.06 L327.65,530.08 L328.64,530.36 L329.64,530.44 L330.64,530.68 L331.64,531.51 L332.64,531.54 L333.64,531.07 L334.64,531.53 L335.63,532.33 L336.63,532.58 L337.63,532.45 L338.63,532.49 L339.63,532.99 L340.63,533.51 L341.63,533.49 L342.63,533.36 L343.63,533.52 L344.62,533.69 L345.62,533.33 L346.62,533.22 L347.62,533.56 L348.62,533.31 L349.62,532.97 L350.62,533.21 L351.62,533.53 L352.61,533.71 L353.61,533.78 L354.61,533.86 L355.61,533.97 L356.61,534.00 L357.61,534.18 L358.61,534.11 L359.61,533.91 L360.60,533.95 L361.60,533.99 L362.60,534.16 L363.60,534.03" fill="none" stroke="#000" stroke-width="1.3"/>
<rect x="46.19" y="407.72" width="5.6" height="5.6" fill="none" stroke="#222" stroke-width="1.3"/>
<circle cx="49.99" cy="411.82" r="2.7" fill="none" stroke="#555" stroke-width="1.3"/>
<path d="M44.00,405.24L46.25,408.24L44.00,411.24L41.75,408.24Z" fill="#000" stroke="#000" stroke-width="1"/>
<path d="M74.96,406.27L77.51,409.67L74.96,413.07L72.41,409.67Z" fill="#c8c8c8" stroke="#444" stroke-width="1"/>
<path d="M63.98,407.92L66.22,410.92L63.98,413.92L61.73,410.92Z" fill="#000" stroke="#000" stroke-width="1"/>
<rect x="86.14" y="405.71" width="5.6" height="5.6" fill="none" stroke="#222" stroke-width="1.3"/>
<circle cx="89.94" cy="406.25" r="2.7" fill="none" stroke="#555" stroke-width="1.3"/>
<path d="M83.95,403.26L86.20,406.26L83.95,409.26L81.70,406.26Z" fill="#000" stroke="#000" stroke-width="1"/>
<path d="M114.91,393.14L117.46,396.54L114.91,399.94L112.36,396.54Z" fill="#c8c8c8" stroke="#444" stroke-width="1"/>
<path d="M103.93,399.69L106.18,402.69L103.93,405.69L101.68,402.69Z" fill="#000" stroke="#000" stroke-width="1"/>
<rect x="126.09" y="398.99" width="5.6" height="5.6" fill="none" stroke="#222" stroke-width="1.3"/>
<circle cx="129.89" cy="398.16" r="2.7" fill="none" stroke="#555" stroke-width="1.3"/>
<path d="M123.90,396.23L126.15,399.23L123.90,402.23L121.65,399.23Z" fill="#000" stroke="#000" stroke-width="1"/>
<path d="M154.86,377.07L157.41,380.47L154.86,383.87L152.31,380.47Z" fill="#c8c8c8" stroke="#444" stroke-width="1"/>
<path d="M143.88,390.44L146.12,393.44L143.88,396.44L141.62,393.44Z" fill="#000" stroke="#000" stroke-width="1"/>
<rect x="166.04" y="374.94" width="5.6" height="5.6" fill="none" stroke="#222" stroke-width="1.3"/>
<circle cx="169.84" cy="389.45" r="2.7" fill="none" stroke="#555" stroke-width="1.3"/>
<path d="M163.85,379.92L166.10,382.92L163.85,385.92L161.60,382.92Z" fill="#000" stroke="#000" stroke-width="1"/>
<path d="M194.81,365.70L197.36,369.10L194.81,372.50L192.26,369.10Z" fill="#c8c8c8" stroke="#444" stroke-width="1"/>
<path d="M183.83,371.72L186.08,374.72L183.83,377.72L181.58,374.72Z" fill="#000" stroke="#000" stroke-width="1"/>
<rect x="205.99" y="365.30" width="5.6" height="5.6" fill="none" stroke="#222" stroke-width="1.3"/>
<circle cx="209.79" cy="377.81" r="2.7" fill="none" stroke="#555" stroke-width="1.3"/>
<path d="M203.80,369.53L206.05,372.53L203.80,375.53L201.55,372.53Z" fill="#000" stroke="#000" stroke-width="1"/>
<path d="M234.76,345.92L237.31,349.32L234.76,352.72L232.21,349.32Z" fill="#c8c8c8" stroke="#444" stroke-width="1"/>
<path d="M223.78,353.73L226.03,356.73L223.78,359.73L221.53,356.73Z" fill="#000" stroke="#000" stroke-width="1"/>
<rect x="245.94" y="328.09" width="5.6" height="5.6" fill="none" stroke="#222" stroke-width="1.3"/>
<circle cx="249.74" cy="337.18" r="2.7" fill="none" stroke="#555" stroke-width="1.3"/>
<path d="M243.75,338.28L246.00,341.28L243.75,344.28L241.50,341.28Z" fill="#000" stroke="#000" stroke-width="1"/>
<path d="M274.71,304.05L277.26,307.45L274.71,310.85L272.16,307.45Z" fill="#c8c8c8" stroke="#444" stroke-width="1"/>
<path d="M263.73,302.74L265.98,305.74L263.73,308.74L261.48,305.74Z" fill="#000" stroke="#000" stroke-width="1"/>
<rect x="285.89" y="368.11" width="5.6" height="5.6" fill="none" stroke="#222" stroke-width="1.3"/>
<circle cx="289.69" cy="408.59" r="2.7" fill="none" stroke="#555" stroke-width="1.3"/>
<path d="M283.70,335.10L285.95,338.10L283.70,341.10L281.45,338.10Z" fill="#000" stroke="#000" stroke-width="1"/>
<path d="M314.66,498.61L317.21,502.01L314.66,505.41L312.11,502.01Z" fill="#c8c8c8" stroke="#444" stroke-width="1"/>
<path d="M303.68,471.72L305.93,474.72L303.68,477.72L301.43,474.72Z" fill="#000" stroke="#000" stroke-width="1"/>
<rect x="325.84" y="526.44" width="5.6" height="5.6" fill="none" stroke="#222" stroke-width="1.3"/>
<circle cx="329.64" cy="532.75" r="2.7" fill="none" stroke="#555" stroke-width="1.3"/>
<path d="M323.65,524.57L325.90,527.57L323.65,530.57L321.40,527.57Z" fill="#000" stroke="#000" stroke-width="1"/>
<path d="M354.61,530.70L357.16,534.10L354.61,537.50L352.06,534.10Z" fill="#c8c8c8" stroke="#444" stroke-width="1"/>
<path d="M343.63,530.52L345.88,533.52L343.63,536.52L341.38,533.52Z" fill="#000" stroke="#000" stroke-width="1"/>
<rect x="360.80" y="529.06" width="5.6" height="5.6" fill="none" stroke="#222" stroke-width="1.3"/>
<circle cx="363.60" cy="535.72" r="2.7" fill="none" stroke="#555" stroke-width="1.3"/>
<path d="M363.60,531.03L365.85,534.03L363.60,537.03L361.35,534.03Z" fill="#000" stroke="#000" stroke-width="1"/>
<rect x="53.5" y="462.3" width="95.80000000000001" height="64.69999999999999" fill="#fff" stroke="#8c8c8c" stroke-width="1"/>
<line x1="56" y1="471.2" x2="62" y2="471.2" stroke="#1a1a1a" stroke-width="1.3"/>
<line x1="80.3" y1="471.2" x2="86" y2="471.2" stroke="#1a1a1a" stroke-width="1.3"/>
<line x1="68.5" y1="471.2" x2="73.5" y2="471.2" stroke="#333" stroke-width="1.0"/>
<rect x="68.20" y="468.40" width="5.6" height="5.6" fill="none" stroke="#222" stroke-width="1.4"/>
<text x="87.6" y="475.30" font-size="11.5">QA Run 1</text>
<line x1="56" y1="487.0" x2="62" y2="487.0" stroke="#333" stroke-width="1.4"/>
<line x1="63.5" y1="487.0" x2="66" y2="487.0" stroke="#333" stroke-width="1.4"/>
<line x1="76" y1="487.0" x2="78.5" y2="487.0" stroke="#333" stroke-width="1.4"/>
<line x1="80.5" y1="487.0" x2="86" y2="487.0" stroke="#333" stroke-width="1.4"/>
<path d="M71.00,483.40L73.70,487.00L71.00,490.60L68.30,487.00Z" fill="#8a8a8a" stroke="#444" stroke-width="1"/>
<text x="87.6" y="491.10" font-size="11.5">QA Run 2</text>
<line x1="56" y1="502.7" x2="86" y2="502.7" stroke="#444" stroke-width="1.1" stroke-dasharray="1.3 1.3"/>
<circle cx="71" cy="502.7" r="2.7" fill="#fff" stroke="#555" stroke-width="1.4"/>
<text x="87.6" y="506.80" font-size="11.5">QA Run 3</text>
<line x1="56" y1="518.2" x2="86" y2="518.2" stroke="#000" stroke-width="1.4"/>
<path d="M71.00,515.20L73.25,518.20L71.00,521.20L68.75,518.20Z" fill="#000" stroke="#000" stroke-width="1"/>
<text x="87.6" y="522.30" font-size="11.5">Mean Data</text>
</svg>
</body></html>
